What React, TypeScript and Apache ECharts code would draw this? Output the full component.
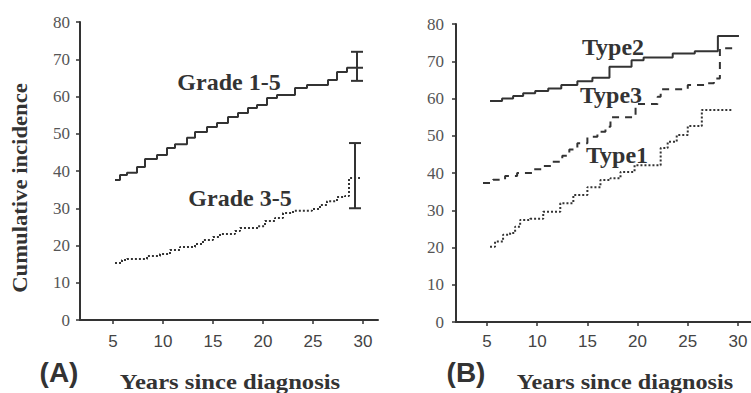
import React, { useEffect, useRef } from "react";
import * as echarts from "echarts";

// ---- Data (years since diagnosis, cumulative incidence %) ----
const xTickValues = [5, 10, 15, 20, 25, 30];

const grade15: [number, number][] = [
  [5.2, 37.6], [5.7, 38.9], [6.4, 39.5], [7.4, 41.1], [8.2, 43.2], [9.4, 44.3],
  [10.4, 46.2], [11.2, 47.2], [12.4, 48.9], [13.2, 50.5], [14.4, 51.8], [15.4, 52.9],
  [16.5, 54.5], [17.5, 55.6], [18.5, 56.9], [19.4, 57.7], [20.4, 59.6], [21.4, 60.4],
  [23.2, 62.3], [24.4, 63.1], [26.5, 64.4], [27.4, 66.6], [28.4, 67.7], [30.0, 67.7],
];

const grade35: [number, number][] = [
  [5.2, 15.3], [5.9, 16.1], [6.4, 16.4], [8.4, 17.2], [9.7, 17.7], [10.7, 18.8],
  [11.7, 19.6], [13.2, 20.4], [14.0, 21.5], [15.0, 22.3], [15.7, 23.1], [17.2, 23.9],
  [17.7, 24.7], [19.5, 25.2], [20.2, 26.6], [21.2, 27.4], [22.0, 28.7], [23.0, 29.3],
  [24.9, 29.8], [25.7, 30.9], [26.4, 31.9], [27.4, 33.0], [28.2, 33.3], [28.6, 38.1],
  [29.7, 38.1],
];

// [x, low, high]
const errorBarsA: [number, number, number][] = [
  [29.4, 64.2, 72.0],
  [29.2, 30.0, 47.5],
];

const type2: [number, number][] = [
  [5.3, 59.3], [6.5, 60.0], [7.6, 60.7], [8.6, 61.4], [9.8, 62.0], [11.1, 62.7],
  [12.4, 63.6], [14.0, 64.6], [15.5, 65.6], [17.2, 68.5], [19.4, 70.3], [20.6, 71.0],
  [23.5, 72.1], [25.7, 72.7], [28.0, 76.8], [30.1, 76.8],
];

const type3: [number, number][] = [
  [4.6, 37.3], [5.6, 38.2], [6.8, 39.2], [8.0, 40.0], [9.5, 41.0], [10.5, 41.9],
  [11.5, 43.0], [12.5, 44.6], [13.2, 46.3], [14.0, 48.0], [15.0, 49.7], [16.0, 51.1],
  [16.8, 52.4], [17.3, 55.0], [19.8, 58.5], [22.0, 60.5], [22.3, 62.5], [25.0, 63.6],
  [26.8, 64.1], [27.6, 65.4], [28.2, 73.5], [29.6, 73.9],
];

const type1: [number, number][] = [
  [5.3, 20.2], [5.8, 21.6], [6.6, 23.4], [7.3, 23.9], [7.8, 25.6], [8.3, 27.4],
  [9.3, 27.7], [10.6, 29.6], [12.3, 31.9], [13.6, 34.1], [15.0, 36.2], [16.3, 38.1],
  [17.3, 38.6], [18.3, 40.3], [19.7, 42.1], [22.3, 46.7], [23.0, 48.4], [23.9, 50.2],
  [25.0, 52.6], [26.4, 56.9], [29.5, 56.9],
];

const INK = "#333";
const SERIF = "'Liberation Serif', 'DejaVu Serif', serif";
const SANS = "'Liberation Sans', Arial, sans-serif";

function xAxisCfg(gridIndex: number, min: number, max: number, margin: number) {
  return {
    type: "value",
    gridIndex,
    min,
    max,
    axisLine: { show: true, lineStyle: { color: INK, width: 2 } },
    axisTick: { show: true, length: 4, customValues: xTickValues, lineStyle: { color: INK, width: 1.5 } },
    axisLabel: { customValues: xTickValues, color: "#444", fontFamily: SANS, fontSize: 17, margin },
    splitLine: { show: false },
  };
}

function yAxisCfg(gridIndex: number, margin: number) {
  return {
    type: "value",
    gridIndex,
    min: 0,
    max: 80,
    interval: 10,
    axisLine: { show: true, lineStyle: { color: INK, width: 2 } },
    axisTick: { show: true, length: 4, lineStyle: { color: INK, width: 1.5 } },
    axisLabel: { color: "#555", fontFamily: SERIF, fontSize: 17, margin },
    splitLine: { show: false },
  };
}

function stepSeries(data: [number, number][], idx: number, type: any, width = 2) {
  return {
    type: "line",
    xAxisIndex: idx,
    yAxisIndex: idx,
    step: "end",
    data,
    showSymbol: false,
    symbol: "none",
    lineStyle: { color: INK, width, type },
    z: 3,
  };
}

export default function App() {
  const ref = useRef<HTMLDivElement>(null);
  useEffect(() => {
    if (!ref.current) return;
    const chart = echarts.init(ref.current, null, { renderer: "svg" });
    const text = (x: number, y: number, t: string, font: any, extra: any = {}) => ({
      type: "text",
      x,
      y,
      ...extra,
      style: {
        text: t,
        fill: INK,
        align: "center",
        verticalAlign: "middle",
        ...font,
      },
    });
    const serifBold = (size: number) => ({ fontFamily: SERIF, fontWeight: "bold", fontSize: size });
    const sansBold = (size: number) => ({ fontFamily: SANS, fontWeight: "bold", fontSize: size });

    chart.setOption({
      animation: false,
      backgroundColor: "#fff",
      grid: [
        { left: 80, top: 22, width: 298, height: 298 },
        { left: 456, top: 24, width: 295, height: 298 },
      ],
      xAxis: [xAxisCfg(0, 1.7, 31.5, 13), xAxisCfg(1, 1.91, 31.3, 11)],
      yAxis: [yAxisCfg(0, 10), yAxisCfg(1, 12)],
      series: [
        stepSeries(grade15, 0, "solid"),
        stepSeries(grade35, 0, [2, 2]),
        {
          type: "custom",
          xAxisIndex: 0,
          yAxisIndex: 0,
          data: errorBarsA,
          renderItem: (params: any, api: any) => {
            const x = api.value(0);
            const lo = api.coord([x, api.value(1)]);
            const hi = api.coord([x, api.value(2)]);
            const w = 6;
            const st = { stroke: INK, lineWidth: 2 };
            return {
              type: "group",
              children: [
                { type: "line", shape: { x1: lo[0], y1: lo[1], x2: hi[0], y2: hi[1] }, style: st },
                { type: "line", shape: { x1: lo[0] - w, y1: lo[1], x2: lo[0] + w, y2: lo[1] }, style: st },
                { type: "line", shape: { x1: hi[0] - w, y1: hi[1], x2: hi[0] + w, y2: hi[1] }, style: st },
              ],
            };
          },
          z: 4,
        },
        stepSeries(type2, 1, "solid"),
        stepSeries(type3, 1, [7, 6]),
        stepSeries(type1, 1, [2, 2]),
      ],
      graphic: [
        text(20, 188, "Cumulative incidence", serifBold(22), { rotation: Math.PI / 2, scaleX: 1.03 }),
        text(229, 82, "Grade 1-5", serifBold(24)),
        text(240, 198, "Grade 3-5", serifBold(24)),
        text(59, 372, "(A)", sansBold(28)),
        text(230, 381, "Years since diagnosis", serifBold(22), { scaleX: 1.12 }),
        text(613, 47, "Type2", serifBold(24)),
        text(611, 95, "Type3", serifBold(24)),
        text(617, 155, "Type1", serifBold(24)),
        text(466, 372, "(B)", sansBold(28)),
        text(625, 381, "Years since diagnosis", serifBold(22), { scaleX: 1.1 }),
      ],
    });
    return () => chart.dispose();
  }, []);
  return (
    <div
      ref={ref}
      style={{ position: "fixed", left: 0, top: 0, width: 751, height: 393, background: "#fff" }}
    />
  );
}
